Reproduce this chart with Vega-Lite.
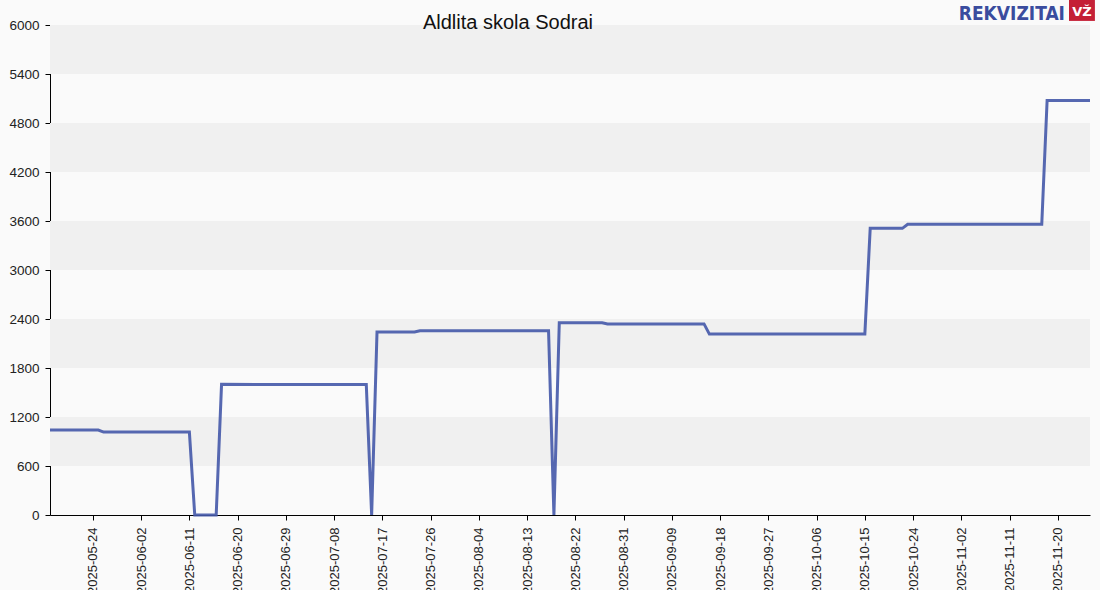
{
  "$schema": "https://vega.github.io/schema/vega-lite/v6.json",
  "autosize": {"type": "none"},
  "width": 1040,
  "height": 490,
  "padding": {"left": 50, "top": 25, "right": 10, "bottom": 75},
  "background": "#fafafa",
  "config": {
    "view": {"stroke": null, "fill": "#fafafa"},
    "font": "Liberation Sans",
    "axis": {"labelFont": "Liberation Sans", "labelFontSize": 13.5, "labelColor": "#222", "domainColor": "#000", "tickColor": "#000", "tickSize": 5, "grid": false, "title": null}
  },
  "title": {"text": "Aldlita skola Sodrai", "font": "Liberation Sans", "fontSize": 20, "fontWeight": "normal", "color": "#111", "anchor": "middle", "dx": -62, "offset": -44, "baseline": "alphabetic", "dy": 5},
  "layer": [
    {
      "data": {"values": [
        {"lo": 600, "hi": 1200}, {"lo": 1800, "hi": 2400}, {"lo": 3000, "hi": 3600}, {"lo": 4200, "hi": 4800}, {"lo": 5400, "hi": 6000}
      ]},
      "mark": {"type": "rect", "color": "#f0f0f0"},
      "encoding": {
        "y": {"field": "lo", "type": "quantitative", "scale": {"domain": [0, 6000], "nice": false}},
        "y2": {"field": "hi"}
      }
    },
    {
      "data": {"values": [
        {"date": "2025-05-16T00:00:00", "value": 1040},
        {"date": "2025-05-25T00:00:00", "value": 1040},
        {"date": "2025-05-26T00:00:00", "value": 1015},
        {"date": "2025-06-11T00:00:00", "value": 1015},
        {"date": "2025-06-12T00:00:00", "value": 0},
        {"date": "2025-06-16T00:00:00", "value": 0},
        {"date": "2025-06-17T00:00:00", "value": 1600},
        {"date": "2025-07-14T00:00:00", "value": 1597},
        {"date": "2025-07-15T00:00:00", "value": 0},
        {"date": "2025-07-16T00:00:00", "value": 2240},
        {"date": "2025-07-23T00:00:00", "value": 2240},
        {"date": "2025-07-24T00:00:00", "value": 2255},
        {"date": "2025-08-17T00:00:00", "value": 2255},
        {"date": "2025-08-18T00:00:00", "value": 0},
        {"date": "2025-08-19T00:00:00", "value": 2355},
        {"date": "2025-08-27T00:00:00", "value": 2355},
        {"date": "2025-08-28T00:00:00", "value": 2340},
        {"date": "2025-09-15T00:00:00", "value": 2340},
        {"date": "2025-09-16T00:00:00", "value": 2215},
        {"date": "2025-10-15T00:00:00", "value": 2215},
        {"date": "2025-10-16T00:00:00", "value": 3510},
        {"date": "2025-10-22T00:00:00", "value": 3510},
        {"date": "2025-10-23T00:00:00", "value": 3560},
        {"date": "2025-11-17T00:00:00", "value": 3560},
        {"date": "2025-11-18T00:00:00", "value": 5075},
        {"date": "2025-11-26T00:00:00", "value": 5075}
      ]},
      "mark": {"type": "line", "color": "#4458a8", "strokeWidth": 3, "opacity": 0.9},
      "encoding": {
        "x": {"field": "date", "type": "temporal",
          "scale": {"domain": [{"year": 2025, "month": 5, "date": 16}, {"year": 2025, "month": 11, "date": 26}], "nice": false},
          "axis": {"format": "%Y-%m-%d", "labelAngle": 270, "labelAlign": "right", "labelBaseline": "middle", "labelPadding": 7, "labelOverlap": false, "labelFontSize": 13,
            "values": [
              {"year": 2025, "month": 5, "date": 24}, {"year": 2025, "month": 6, "date": 2}, {"year": 2025, "month": 6, "date": 11},
              {"year": 2025, "month": 6, "date": 20}, {"year": 2025, "month": 6, "date": 29}, {"year": 2025, "month": 7, "date": 8},
              {"year": 2025, "month": 7, "date": 17}, {"year": 2025, "month": 7, "date": 26}, {"year": 2025, "month": 8, "date": 4},
              {"year": 2025, "month": 8, "date": 13}, {"year": 2025, "month": 8, "date": 22}, {"year": 2025, "month": 8, "date": 31},
              {"year": 2025, "month": 9, "date": 9}, {"year": 2025, "month": 9, "date": 18}, {"year": 2025, "month": 9, "date": 27},
              {"year": 2025, "month": 10, "date": 6}, {"year": 2025, "month": 10, "date": 15}, {"year": 2025, "month": 10, "date": 24},
              {"year": 2025, "month": 11, "date": 2}, {"year": 2025, "month": 11, "date": 11}, {"year": 2025, "month": 11, "date": 20}
            ]}},
        "y": {"field": "value", "type": "quantitative",
          "axis": {"values": [0, 600, 1200, 1800, 2400, 3000, 3600, 4200, 4800, 5400, 6000], "format": "d", "labelPadding": 6, "labelFontSize": 13.5}}
      }
    },
    {
      "data": {"values": [{"x1": "2025-11-22T02:00:00", "x2": "2025-11-26T22:00:00", "y1": 6050, "y2": 6306}]},
      "mark": {"type": "rect", "color": "#c41f35", "clip": false},
      "encoding": {
        "x": {"field": "x1", "type": "temporal"},
        "x2": {"field": "x2"},
        "y": {"field": "y1", "type": "quantitative"},
        "y2": {"field": "y2"}
      }
    },
    {
      "data": {"values": [{"t": "VŽ", "x": "2025-11-24T12:00:00", "y": 6110}]},
      "mark": {"type": "text", "color": "#ffffff", "font": "DejaVu Sans", "fontWeight": "bold", "fontSize": 13, "align": "center", "baseline": "alphabetic", "clip": false},
      "encoding": {
        "x": {"field": "x", "type": "temporal"},
        "y": {"field": "y", "type": "quantitative"},
        "text": {"field": "t"}
      }
    },
    {
      "data": {"values": [{"t": "REKVIZITAI", "x": "2025-11-21T08:00:00", "y": 6061}]},
      "mark": {"type": "text", "color": "#3a4c9e", "font": "DejaVu Sans Condensed", "fontWeight": "bold", "fontSize": 19, "align": "right", "baseline": "alphabetic", "clip": false},
      "encoding": {
        "x": {"field": "x", "type": "temporal"},
        "y": {"field": "y", "type": "quantitative"},
        "text": {"field": "t"}
      }
    }
  ]
}
